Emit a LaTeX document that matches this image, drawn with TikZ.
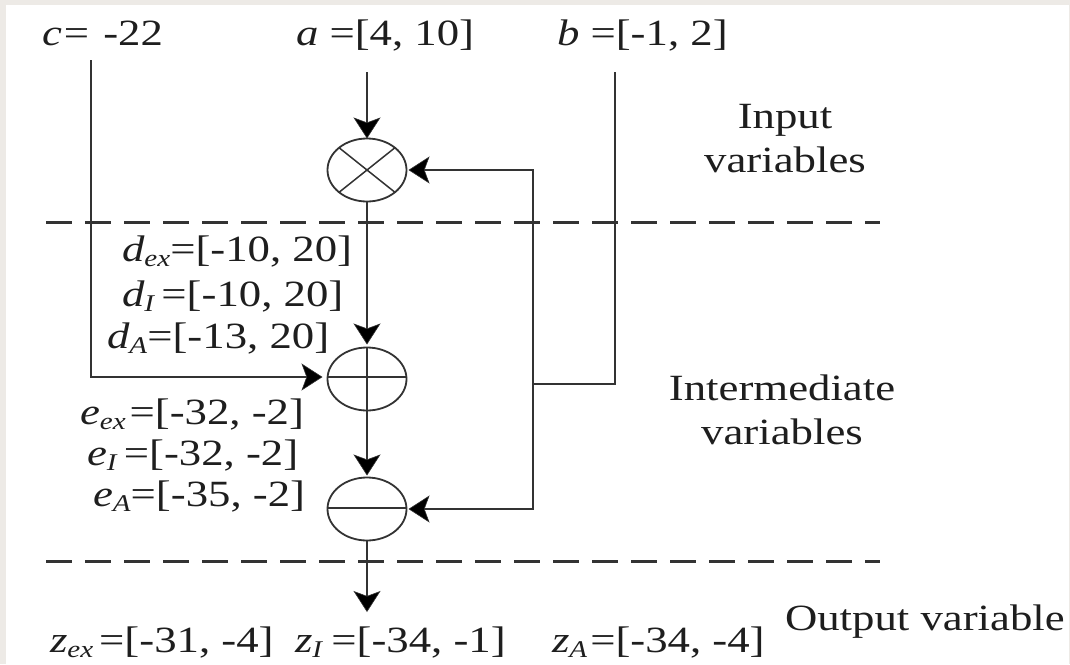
\documentclass[tikz,border=0pt]{standalone}
\usepackage{xcolor}
\usepackage{fontspec}
\setmainfont[FakeStretch=1.21]{Liberation Serif}
\usetikzlibrary{positioning,arrows.meta,shapes.geometric}
\definecolor{PageGray}{HTML}{EDEAE6}
\definecolor{InkGray}{HTML}{333333}
\definecolor{TextGray}{HTML}{1E1E1E}
\newcommand{\subvar}[2]{\textit{#1}\raisebox{-5pt}{\fontsize{24}{24}\selectfont\textit{#2}}}

\begin{document}
\begin{tikzpicture}[
    x=1pt, y=-1pt,
    op/.style={draw=InkGray, line width=1.8pt, ellipse, minimum width=79pt, minimum height=63pt, inner sep=0pt, outer sep=0pt},
    lab/.style={anchor=base west, inner sep=0pt, outer sep=0pt, text=TextGray, font=\fontsize{37}{44}\selectfont},
    side/.style={inner sep=0pt, outer sep=0pt, align=center, text=TextGray, font=\fontsize{37}{44}\selectfont},
    wire/.style={draw=InkGray, line width=2.6pt},
    arrow/.style={wire, -{Stealth[length=21pt, width=27pt, inset=5pt, line width=0.6pt, fill=black]}},
    level/.style={draw=InkGray, line width=3pt, dash pattern=on 26pt off 13pt}
  ]
    \useasboundingbox (0,0) rectangle (1070,664);
    \fill[PageGray] (0,0) rectangle (1070,664);
    \fill[white] (6,5) rectangle (1069,664);

    % inputs
    \node[lab] (cval) at (42,45) {\textit{c}\kern2pt=\kern3pt{} -22};
    \node[lab] (aval) at (296,45) {\textit{a} =[4, 10]};
    \node[lab] (bval) at (557,45) {\textit{b} =[-1, 2]};

    % operators
    \node[op] (mul) at (367,170) {};
    \node[op, below=146pt of mul] (add) {};
    \node[op, below=67pt of add] (sub) {};
    \draw[InkGray, line width=1.5pt] (mul.north west) -- (mul.south east);
    \draw[InkGray, line width=1.5pt] (mul.south west) -- (mul.north east);
    \draw[InkGray, line width=1.8pt] ([yshift=2pt]add.west) -- ([yshift=2pt]add.east);
    \draw[InkGray, line width=1.8pt] (add.north) -- (add.south);
    \draw[InkGray, line width=1.8pt] ([yshift=1pt]sub.west) -- ([yshift=1pt]sub.east);

    \coordinate (atop) at (367,72);
    \coordinate (ctop) at (91,60);
    \coordinate (btop) at (615,72);
    \coordinate (join) at (533,384);
    \coordinate (zend) at (367,612);

    % connectors
    \draw[arrow] (atop) -- (mul.north);
    \draw[arrow, shorten >=3pt] (mul.south) -- (add.north);
    \draw[arrow, shorten >=2pt] (add.south) -- (sub.north);
    \draw[arrow] (sub.south) -- (zend);
    \draw[arrow, shorten >=5pt] (ctop) |- ([yshift=2pt]add.west);
    \draw[wire] (btop) |- (join);
    \draw[arrow, shorten >=2pt] (join) |- (mul.east);
    \draw[arrow, shorten >=2pt] (join) |- (sub.east);

    \coordinate (dl1) at (46,222);
    \coordinate (dr1) at (880,222);
    \coordinate (dl2) at (46,561);
    \coordinate (dr2) at (880,561);
    \draw[level] (dl1) -- (dr1);
    \draw[level] (dl2) -- (dr2);

    % intervals
    \node[lab] (dex) at (122,261) {\subvar{d}{ex}=[-10, 20]};
    \node[lab] (di) at (122,306) {\subvar{d}{I}\,=[-10, 20]};
    \node[lab] (da) at (107,348) {\subvar{d}{A}=[-13, 20]};
    \node[lab] (eex) at (80,424) {\subvar{e}{ex}\kern4pt=[-32, -2]};
    \node[lab] (ei) at (87,465) {\subvar{e}{I}\,=[-32, -2]};
    \node[lab] (ea) at (93,506) {\subvar{e}{A}=[-35, -2]};
    \node[lab] (zex) at (50,652) {\subvar{z}{ex}\kern6pt=[-31, -4]};
    \node[lab] (zi) at (295,652) {\subvar{z}{I}\,\kern2pt=[-34, -1]};
    \node[lab] (za) at (552,652) {\subvar{z}{A}\kern3pt=[-34, -4]};

    % side labels
    \node[side] (inlab) at (785,139) {Input\\variables};
    \node[side] (midlab) at (782,410) {Intermediate\\variables};
    \node[lab] (outlab) at (785,630) {Output variable};
  \end{tikzpicture}
\end{document}
